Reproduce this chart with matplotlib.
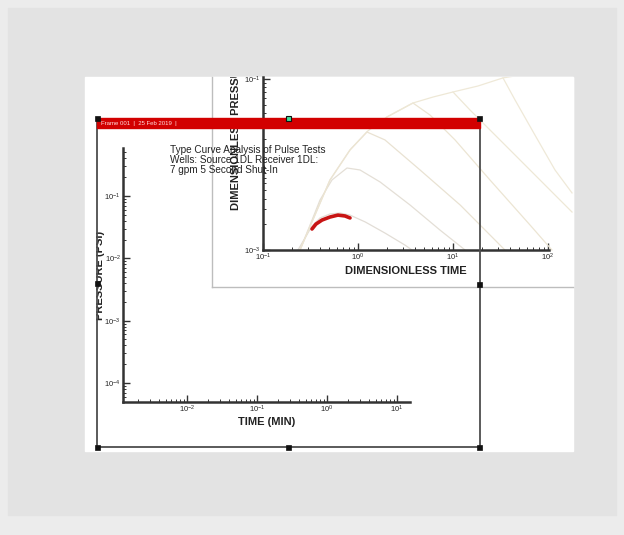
import matplotlib.pyplot as plt
from matplotlib.patches import Rectangle
from matplotlib.lines import Line2D

W, H = 624, 535

plt.rcParams['font.family'] = 'Liberation Sans'
plt.rcParams['mathtext.fontset'] = 'custom'
plt.rcParams['mathtext.rm'] = 'Liberation Sans'
plt.rcParams['mathtext.it'] = 'Liberation Sans:italic'
plt.rcParams['mathtext.bf'] = 'Liberation Sans:bold'

# type curves (dimensionless time, dimensionless pressure)
curve1_t = [0.233, 0.277, 0.328, 0.398, 0.507, 0.647, 0.824, 1.19, 1.92, 3.13, 3.70]
curve1_p = [1.0e-3, 1.38e-3, 1.91e-3, 2.37e-3, 2.64e-3, 2.71e-3, 2.56e-3, 2.13e-3, 1.58e-3, 1.14e-3, 1.0e-3]
curve2_t = [0.245, 0.313, 0.398, 0.532, 0.766, 1.05, 1.71, 3.53, 7.30, 13.4]
curve2_p = [1.0e-3, 1.96e-3, 3.84e-3, 6.59e-3, 9.1e-3, 8.63e-3, 6.24e-3, 3.36e-3, 1.71e-3, 1.0e-3]
curve3_t = [0.245, 0.352, 0.507, 0.824, 1.24, 1.92, 4.50, 11.9, 35.2]
curve3_p = [1.0e-3, 2.56e-3, 6.59e-3, 1.48e-2, 2.40e-2, 1.94e-2, 8.63e-3, 3.36e-3, 1.0e-3]
curve4_t = [0.245, 0.352, 0.507, 0.824, 1.27, 2.02, 3.79, 5.73, 10.5, 24.5, 64.7, 110]
curve4_p = [1.0e-3, 2.56e-3, 6.59e-3, 1.48e-2, 2.47e-2, 3.60e-2, 5.24e-2, 3.79e-2, 1.94e-2, 6.59e-3, 1.96e-3, 1.0e-3]
curve5_t = [2.02, 3.79, 6.15, 10.0, 15.1, 39.8, 105, 179]
curve5_p = [3.60e-2, 5.24e-2, 6.15e-2, 7.05e-2, 4.34e-2, 1.48e-2, 5.03e-3, 2.78e-3]
curve6_t = [10.0, 18.3, 33.6, 45.0, 72.9, 118.5, 179]
curve6_p = [7.05e-2, 8.28e-2, 0.103, 5.68e-2, 2.21e-2, 8.63e-3, 4.65e-3]
envelope_t = [33.6, 82.4]
envelope_p = [0.103, 0.121]

# measured pulse data
data_t = [0.328, 0.361, 0.418, 0.507, 0.615, 0.730, 0.824]
data_p = [1.76e-3, 2.01e-3, 2.24e-3, 2.43e-3, 2.56e-3, 2.50e-3, 2.37e-3]

title_lines = ["Type Curve Analysis of Pulse Tests",
               "Wells: Source 1DL Receiver 1DL:",
               "7 gpm 5 Second Shut-In"]


def box(x0, y0, x1, y1):
    return [x0 / W, 1 - y1 / H, (x1 - x0) / W, (y1 - y0) / H]


def rect(x0, y0, x1, y1, add=True, **kw):
    r = Rectangle((x0 / W, 1 - y1 / H), (x1 - x0) / W, (y1 - y0) / H,
                  transform=fig.transFigure, **kw)
    if add:
        fig.add_artist(r)
    return r


def line(xs, ys, **kw):
    fig.add_artist(Line2D([x / W for x in xs], [1 - y / H for y in ys],
                          transform=fig.transFigure, **kw))


def style_axis(ax):
    for s in ['top', 'right']:
        ax.spines[s].set_visible(False)
    for s in ['left', 'bottom']:
        ax.spines[s].set_linewidth(1.8)
        ax.spines[s].set_color('#333333')
    ax.tick_params(which='major', direction='in', length=5, width=1, color='#333333',
                   labelsize=5.5, pad=1.5, labelcolor='#222222')
    ax.tick_params(which='minor', direction='in', length=2.5, width=0.7, color='#333333')
    ax.patch.set_alpha(0)


fig = plt.figure(figsize=(W / 100, H / 100), dpi=100, facecolor='#ececec')
rect(8, 8, 616, 515, color='#e3e3e3', zorder=0)
page = rect(85, 77, 573, 451, color='white', zorder=0.5)

# ---- back frame (type curves) ----
back = rect(212, 77, 573, 287, color='white', zorder=1)
line([212, 212], [77, 287], color='#bdbdbd', lw=1, zorder=1.1)
line([212, 573], [287, 287], color='#bdbdbd', lw=1, zorder=1.1)

bx = fig.add_axes(box(263, 77, 549, 250))
bx.set_zorder(2)
bx.set_xscale('log')
bx.set_yscale('log')
bx.set_xlim(10 ** -1, 10 ** (-1 + 286 / 95))
bx.set_ylim(1e-3, 10 ** (-3 + 173 / 85.5))
style_axis(bx)
type_curves = [(curve1_t, curve1_p, '#e2ddd6'), (curve2_t, curve2_p, '#e4dfd6'),
               (curve3_t, curve3_p, '#e9e2d2'), (curve4_t, curve4_p, '#ece5d3'),
               (curve5_t, curve5_p, '#eee8d6'), (curve6_t, curve6_p, '#efe9d8'),
               (envelope_t, envelope_p, '#efe9d8')]
for t, p, c in type_curves:
    ln, = bx.plot(t, p, color=c, lw=0.9)
    ln.set_clip_path(back)
bx.plot(data_t, data_p, color='#c81414', lw=2.6, solid_capstyle='round')
bx.set_xticks([0.1, 1, 10, 100])
bx.set_yticks([1e-3, 1e-1])
bx.text(0.5, -0.09, 'DIMENSIONLESS TIME', transform=bx.transAxes, ha='center', va='top',
        fontsize=8, fontweight='bold', color='#222222')
yl = fig.text(236 / W, 1 - 210 / H, 'DIMENSIONLESS PRESSURE', rotation=90, ha='center',
              va='bottom', fontsize=8, fontweight='bold', color='#222222', zorder=3)
yl.set_clip_path(page)
yl.set_clip_on(True)

# ---- front frame ----
ax = fig.add_axes(box(123, 148, 410, 402))
ax.set_zorder(5)
ax.set_xscale('log')
ax.set_yscale('log')
ax.set_xlim(10 ** -2.914, 10 ** 1.186)
ax.set_ylim(10 ** -4.305, 10 ** -0.23)
style_axis(ax)
ax.set_xticks([1e-2, 1e-1, 1e0, 1e1])
ax.set_yticks([1e-4, 1e-3, 1e-2, 1e-1])
ax.set_xlabel('TIME (MIN)', fontsize=8, fontweight='bold', color='#222222', labelpad=1)

ylab = fig.text(100 / W, 1 - 275 / H, 'PRESSURE (PSI)', rotation=90, ha='center',
                va='center', fontsize=8, fontweight='bold', color='#222222', zorder=6)
ylab.set_clip_path(rect(96, 118, 480, 447, add=False))
ylab.set_clip_on(True)

fig.text(170 / W, 1 - 145 / H, "\n".join(title_lines), ha='left', va='top',
         fontsize=7.2, color='#222222', linespacing=0.98, zorder=6)

# frame border, header bar and handles
line([97, 97, 480, 480], [118, 447, 447, 118], color='#4d4d4d', lw=1.3, zorder=7)
rect(97, 118, 480, 128, color='#d20000', zorder=8)
fig.text(101 / W, 1 - 123.5 / H, 'Frame 001  |  25 Feb 2019  |', ha='left', va='center',
         fontsize=4.3, color='#ffdddd', zorder=9)
for hx, hy in [(97, 118), (480, 118), (97, 447), (480, 447), (288, 447), (480, 284), (97, 283)]:
    rect(hx - 2.5, hy - 2.5, hx + 2.5, hy + 2.5, facecolor='#111111', edgecolor='#111111',
         lw=0.5, zorder=10)
rect(285.5, 115.5, 290.5, 120.5, facecolor='#44dd99', edgecolor='#111111', lw=0.8, zorder=10)

fig.savefig('out.png', dpi=100, facecolor=fig.get_facecolor())
